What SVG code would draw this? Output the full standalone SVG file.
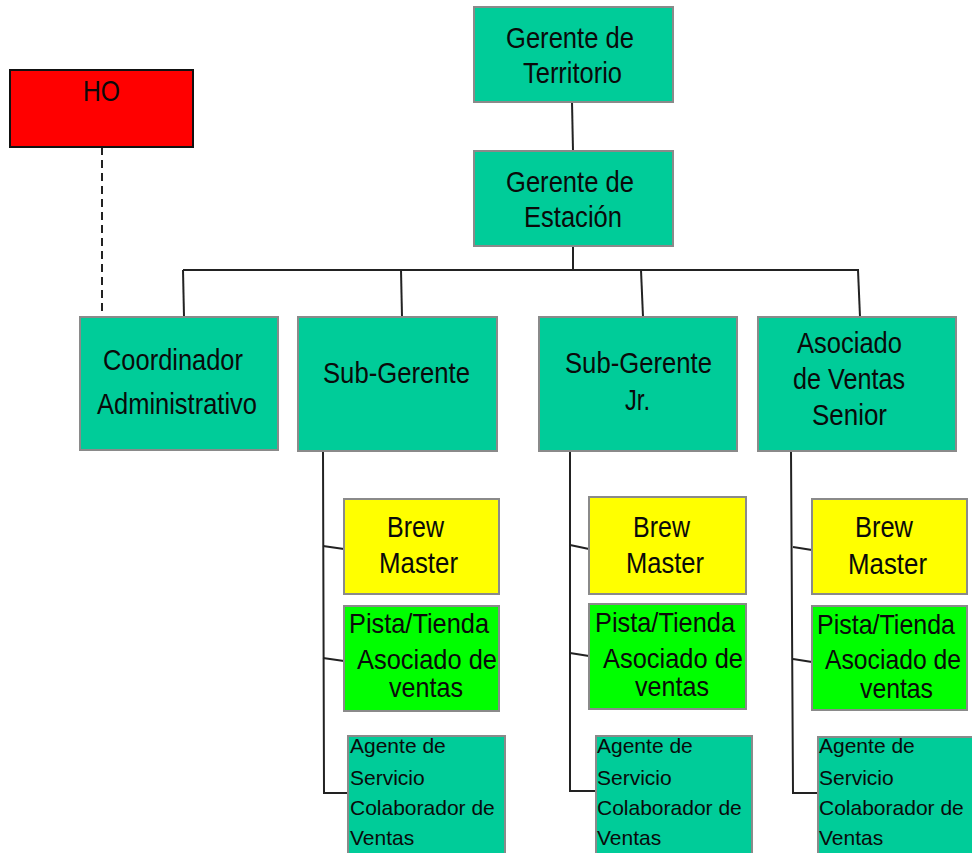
<svg xmlns="http://www.w3.org/2000/svg" width="972" height="853" viewBox="0 0 972 853">
<style>
.box{stroke:#8a8a8a;stroke-width:2}
.teal{fill:#00CC99}
.yel{fill:#FFFF00}
.grn{fill:#00FF00}
.red{fill:#FF0000;stroke:#111;stroke-width:2}
.t{font-family:"Liberation Sans",Arial,sans-serif;font-size:29px;fill:#0a0a0a}
.p{font-family:"Liberation Sans",Arial,sans-serif;font-size:28px;fill:#0a0a0a}
.s{font-family:"Liberation Sans",Arial,sans-serif;font-size:21px;fill:#0a0a0a}
.c{fill:none;stroke:#222;stroke-width:2}
.d{fill:none;stroke:#222;stroke-width:2;stroke-dasharray:8 5}
</style>
<rect width="972" height="853" fill="#fff"/>
<g id="connectors">
<line class="c" x1="572" y1="102" x2="573" y2="151"/>
<line class="c" x1="573" y1="246" x2="573" y2="270"/>
<line class="c" x1="183" y1="270" x2="859" y2="270"/>
<line class="c" x1="183" y1="270" x2="184" y2="317"/>
<line class="c" x1="401" y1="270" x2="402" y2="317"/>
<line class="c" x1="641" y1="270" x2="643" y2="317"/>
<line class="c" x1="858" y1="270" x2="860" y2="317"/>
<line class="d" x1="102" y1="147" x2="102" y2="317"/>
<polyline class="c" points="323,451 324,793 348,793"/>
<line class="c" x1="323" y1="546" x2="344" y2="549"/>
<line class="c" x1="323" y1="658" x2="344" y2="661"/>
<polyline class="c" points="570,451 570,791 596,791"/>
<line class="c" x1="570" y1="545" x2="589" y2="549"/>
<line class="c" x1="570" y1="653" x2="589" y2="656"/>
<polyline class="c" points="791,451 793,793 818,793"/>
<line class="c" x1="793" y1="547" x2="812" y2="550"/>
<line class="c" x1="793" y1="659" x2="812" y2="662"/>
</g>
<g id="ho">
<rect class="red" x="10" y="70" width="183" height="77"/>
<text class="t" x="83" y="101" textLength="37" lengthAdjust="spacingAndGlyphs">HO</text>
</g>
<g id="gerente-territorio">
<rect class="box teal" x="474" y="7" width="199" height="95"/>
<text class="t" x="506" y="48" textLength="128" lengthAdjust="spacingAndGlyphs">Gerente de</text>
<text class="t" x="523" y="83" textLength="99" lengthAdjust="spacingAndGlyphs">Territorio</text>
</g>
<g id="gerente-estacion">
<rect class="box teal" x="474" y="151" width="199" height="95"/>
<text class="t" x="506" y="192" textLength="128" lengthAdjust="spacingAndGlyphs">Gerente de</text>
<text class="t" x="524" y="227" textLength="98" lengthAdjust="spacingAndGlyphs">Estación</text>
</g>
<g id="coordinador">
<rect class="box teal" x="80" y="317" width="198" height="133"/>
<text class="t" x="103" y="370" textLength="140" lengthAdjust="spacingAndGlyphs">Coordinador</text>
<text class="t" x="97" y="414" textLength="160" lengthAdjust="spacingAndGlyphs">Administrativo</text>
</g>
<g id="sub-gerente">
<rect class="box teal" x="298" y="317" width="199" height="134"/>
<text class="t" x="323" y="383" textLength="147" lengthAdjust="spacingAndGlyphs">Sub-Gerente</text>
</g>
<g id="sub-gerente-jr">
<rect class="box teal" x="539" y="317" width="198" height="134"/>
<text class="t" x="565" y="373" textLength="147" lengthAdjust="spacingAndGlyphs">Sub-Gerente</text>
<text class="t" x="625" y="410" textLength="25" lengthAdjust="spacingAndGlyphs">Jr.</text>
</g>
<g id="asociado-senior">
<rect class="box teal" x="758" y="317" width="198" height="134"/>
<text class="t" x="797" y="353" textLength="105" lengthAdjust="spacingAndGlyphs">Asociado</text>
<text class="t" x="793" y="389" textLength="112" lengthAdjust="spacingAndGlyphs">de Ventas</text>
<text class="t" x="812" y="425" textLength="75" lengthAdjust="spacingAndGlyphs">Senior</text>
</g>
<g id="brew-1">
<rect class="box yel" x="344" y="499" width="155" height="95"/>
<text class="t" x="387" y="537" textLength="57" lengthAdjust="spacingAndGlyphs">Brew</text>
<text class="t" x="379" y="573" textLength="79" lengthAdjust="spacingAndGlyphs">Master</text>
</g>
<g id="pista-1">
<rect class="box grn" x="344" y="606" width="155" height="105"/>
<text class="p" x="349" y="633" textLength="140" lengthAdjust="spacingAndGlyphs">Pista/Tienda</text>
<text class="p" x="357" y="669" textLength="140" lengthAdjust="spacingAndGlyphs">Asociado de</text>
<text class="p" x="389" y="697" textLength="74" lengthAdjust="spacingAndGlyphs">ventas</text>
</g>
<g id="agente-1">
<rect class="box teal" x="348" y="736" width="157" height="130"/>
<text class="s" x="350" y="753">Agente de</text>
<text class="s" x="350" y="785">Servicio</text>
<text class="s" x="350" y="815">Colaborador de</text>
<text class="s" x="350" y="845">Ventas</text>
</g>
<g id="brew-2">
<rect class="box yel" x="589" y="497" width="157" height="97"/>
<text class="t" x="633" y="537" textLength="57" lengthAdjust="spacingAndGlyphs">Brew</text>
<text class="t" x="626" y="573" textLength="78" lengthAdjust="spacingAndGlyphs">Master</text>
</g>
<g id="pista-2">
<rect class="box grn" x="589" y="604" width="157" height="105"/>
<text class="p" x="595" y="632" textLength="140" lengthAdjust="spacingAndGlyphs">Pista/Tienda</text>
<text class="p" x="603" y="668" textLength="140" lengthAdjust="spacingAndGlyphs">Asociado de</text>
<text class="p" x="635" y="696" textLength="74" lengthAdjust="spacingAndGlyphs">ventas</text>
</g>
<g id="agente-2">
<rect class="box teal" x="596" y="736" width="156" height="130"/>
<text class="s" x="597" y="753">Agente de</text>
<text class="s" x="597" y="785">Servicio</text>
<text class="s" x="597" y="815">Colaborador de</text>
<text class="s" x="597" y="845">Ventas</text>
</g>
<g id="brew-3">
<rect class="box yel" x="812" y="499" width="155" height="95"/>
<text class="t" x="855" y="537" textLength="58" lengthAdjust="spacingAndGlyphs">Brew</text>
<text class="t" x="848" y="574" textLength="79" lengthAdjust="spacingAndGlyphs">Master</text>
</g>
<g id="pista-3">
<rect class="box grn" x="812" y="606" width="155" height="104"/>
<text class="p" x="817" y="634" textLength="138" lengthAdjust="spacingAndGlyphs">Pista/Tienda</text>
<text class="p" transform="translate(825 669) scale(0.883 1)">Asociado de</text>
<text class="p" x="860" y="698" textLength="73" lengthAdjust="spacingAndGlyphs">ventas</text>
</g>
<g id="agente-3">
<rect class="box teal" x="818" y="737" width="160" height="130"/>
<text class="s" x="819" y="753">Agente de</text>
<text class="s" x="819" y="785">Servicio</text>
<text class="s" x="819" y="815">Colaborador de</text>
<text class="s" x="819" y="845">Ventas</text>
</g>
</svg>
